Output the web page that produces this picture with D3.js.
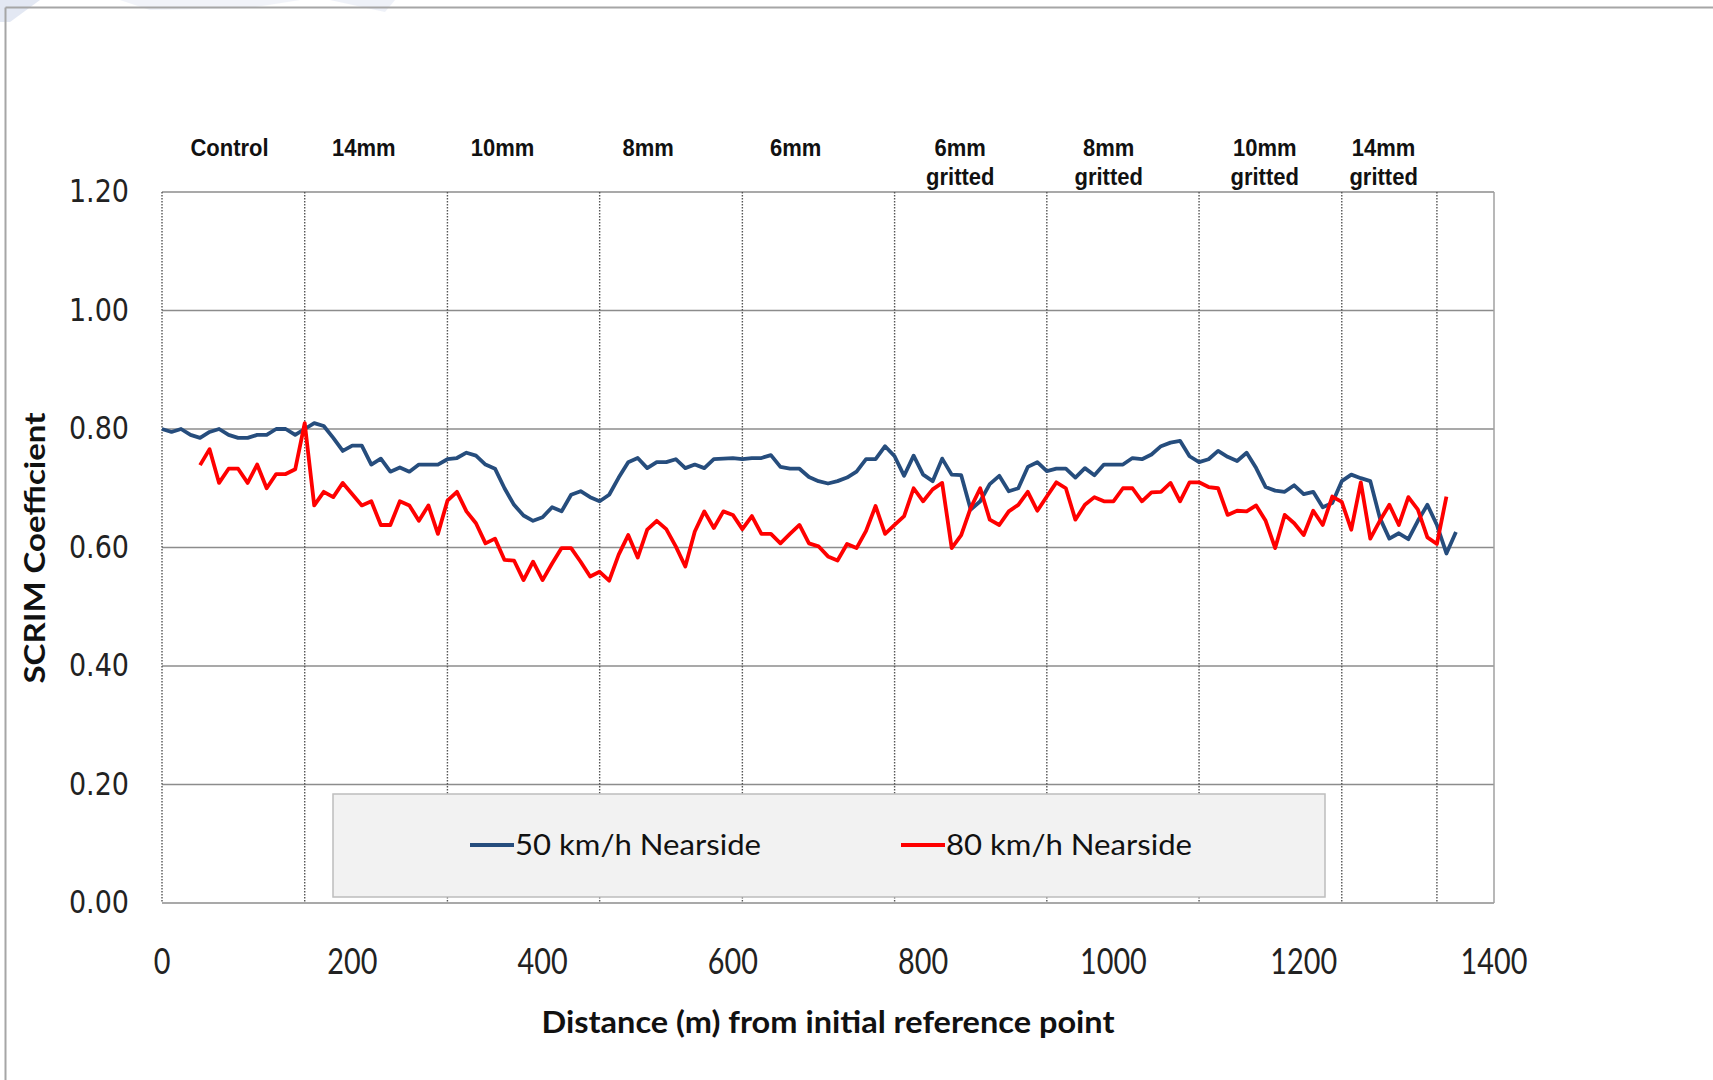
<!DOCTYPE html>
<html>
<head>
<meta charset="utf-8">
<script src="https://cdn.jsdelivr.net/npm/d3@7"></script>
<style>
body { margin: 0; background: #fff; }
</style>
</head>
<body>
<div id="chart"></div>
<script>
// SCRIM readings, one every 10 m
var step = 10;
var blueStart = 0;
var redStart = 40;

var blueValues = [
  0.800, 0.795, 0.800, 0.790, 0.785, 0.795, 0.800, 0.790, 0.785, 0.785,
  0.790, 0.790, 0.800, 0.800, 0.790, 0.800, 0.810, 0.805, 0.785, 0.763,
  0.772, 0.772, 0.740, 0.750, 0.728, 0.735, 0.728, 0.740, 0.740, 0.740,
  0.749, 0.751, 0.760, 0.755, 0.740, 0.733, 0.700, 0.672, 0.654, 0.645,
  0.651, 0.668, 0.661, 0.689, 0.695, 0.685, 0.678, 0.689, 0.718, 0.744,
  0.751, 0.734, 0.744, 0.744, 0.749, 0.734, 0.740, 0.734, 0.749, 0.750,
  0.751, 0.749, 0.751, 0.751, 0.756, 0.736, 0.733, 0.733, 0.719, 0.712,
  0.708, 0.712, 0.718, 0.728, 0.749, 0.749, 0.771, 0.754, 0.721, 0.755,
  0.723, 0.712, 0.750, 0.723, 0.722, 0.664, 0.678, 0.707, 0.721, 0.695,
  0.700, 0.736, 0.744, 0.729, 0.733, 0.733, 0.718, 0.734, 0.722, 0.740,
  0.740, 0.740, 0.751, 0.749, 0.757, 0.771, 0.777, 0.780, 0.754, 0.744,
  0.749, 0.763, 0.753, 0.746, 0.760, 0.734, 0.702, 0.696, 0.694, 0.705,
  0.690, 0.694, 0.668, 0.675, 0.712, 0.723, 0.717, 0.712, 0.650, 0.615,
  0.624, 0.614, 0.645, 0.672, 0.638, 0.590, 0.626
];

var redValues = [
  0.739, 0.766, 0.709, 0.733, 0.733, 0.709, 0.740, 0.700, 0.724, 0.724,
  0.732, 0.810, 0.671, 0.694, 0.685, 0.709, 0.690, 0.671, 0.678, 0.638,
  0.638, 0.678, 0.671, 0.645, 0.671, 0.623, 0.679, 0.694, 0.661, 0.641,
  0.607, 0.615, 0.579, 0.578, 0.545, 0.576, 0.545, 0.573, 0.599, 0.599,
  0.576, 0.551, 0.559, 0.544, 0.588, 0.621, 0.583, 0.630, 0.645, 0.631,
  0.602, 0.568, 0.627, 0.661, 0.633, 0.661, 0.655, 0.631, 0.653, 0.623,
  0.623, 0.607, 0.623, 0.638, 0.607, 0.602, 0.585, 0.578, 0.606, 0.599,
  0.628, 0.670, 0.623, 0.638, 0.653, 0.700, 0.678, 0.698, 0.709, 0.599,
  0.621, 0.667, 0.700, 0.647, 0.638, 0.661, 0.672, 0.694, 0.662, 0.686,
  0.710, 0.700, 0.647, 0.672, 0.685, 0.678, 0.678, 0.700, 0.700, 0.678,
  0.693, 0.694, 0.709, 0.678, 0.710, 0.710, 0.702, 0.700, 0.655, 0.662,
  0.661, 0.671, 0.645, 0.599, 0.655, 0.641, 0.621, 0.662, 0.638, 0.686,
  0.677, 0.630, 0.710, 0.615, 0.645, 0.672, 0.638, 0.685, 0.664, 0.617,
  0.606, 0.686
];

var seriesNames = ["50 km/h Nearside", "80 km/h Nearside"];
var seriesColors = ["#264d7d", "#ff0000"];

// surface sections along the road
var sectionBounds = [150, 300, 460, 610, 770, 930, 1090, 1240, 1340];
var sectionNames = [["Control"], ["14mm"], ["10mm"], ["8mm"], ["6mm"],
  ["6mm", "gritted"], ["8mm", "gritted"], ["10mm", "gritted"], ["14mm", "gritted"]];
var sectionNameAt = [71, 212, 358, 511, 666, 839, 995, 1159, 1284];

var xTicks = [0, 200, 400, 600, 800, 1000, 1200, 1400];
var yTicks = [0, 0.2, 0.4, 0.6, 0.8, 1.0, 1.2];

var W = 1713, H = 1080;
var margin = {top: 192, right: 219, bottom: 177, left: 162};
var width = W - margin.left - margin.right,
    height = H - margin.top - margin.bottom;

var svg = d3.select("#chart").append("svg")
  .attr("width", W)
  .attr("height", H)
  .style("font-family", "Lato, 'Open Sans', sans-serif");

// faint watermark remains top left
var wm = svg.append("g").attr("fill", "#dde3f1").attr("opacity", 0.8);
wm.append("path").attr("d", "M0,0 L40,0 L10,22 L0,22 Z");
wm.append("path").attr("d", "M120,0 L300,0 L250,8 L150,10 Z").attr("opacity", 0.5);
wm.append("path").attr("d", "M330,0 L395,0 L385,12 Z").attr("opacity", 0.6);

// outer frame
svg.append("line").attr("x1", 5.5).attr("x2", W).attr("y1", 7.5).attr("y2", 7.5)
  .attr("stroke", "#a6a6a6").attr("stroke-width", 2);
svg.append("line").attr("x1", 5.5).attr("x2", 5.5).attr("y1", 7.5).attr("y2", H)
  .attr("stroke", "#a6a6a6").attr("stroke-width", 2);

var g = svg.append("g")
  .attr("transform", "translate(" + margin.left + "," + margin.top + ")");

var x = d3.scaleLinear().domain([0, 1400]).range([0, width]);
var y = d3.scaleLinear().domain([0, 1.2]).range([height, 0]);

// horizontal gridlines
g.selectAll(".hgrid")
  .data(yTicks)
  .enter()
  .append("line")
  .attr("x1", 0)
  .attr("x2", width)
  .attr("y1", function(d) { return y(d); })
  .attr("y2", function(d) { return y(d); })
  .attr("stroke", "#8c8c8c")
  .attr("stroke-width", 1.5);

// right edge
g.append("line").attr("x1", width).attr("x2", width).attr("y1", 0).attr("y2", height)
  .attr("stroke", "#a0a0a0").attr("stroke-width", 1.5);

// section boundaries (dotted), including left edge
g.selectAll(".vsec")
  .data([0].concat(sectionBounds))
  .enter()
  .append("line")
  .attr("x1", function(d) { return x(d); })
  .attr("x2", function(d) { return x(d); })
  .attr("y1", 0)
  .attr("y2", height)
  .attr("stroke", "#555")
  .attr("stroke-width", 1.4)
  .attr("stroke-dasharray", "1.5,1.5");

// y tick labels
g.selectAll(".ylab")
  .data(yTicks)
  .enter()
  .append("text")
  .attr("transform", function(d) { return "translate(-33," + (y(d) + 10) + ") scale(1,1.15)"; })
  .attr("text-anchor", "end")
  .style("font-family", "'DejaVu Sans', Verdana, sans-serif")
  .style("font-size", "27px")
  .attr("fill", "#222")
  .text(function(d) { return d3.format(".2f")(d); });

// x tick labels
g.selectAll(".xlab")
  .data(xTicks)
  .enter()
  .append("text")
  .attr("transform", function(d) { return "translate(" + x(d) + "," + (height + 71) + ") scale(0.96,1.2)"; })
  .attr("text-anchor", "middle")
  .style("font-size", "30px")
  .attr("fill", "#222")
  .text(function(d) { return d; });

// section labels above plot
var sec = g.selectAll(".seclab")
  .data(sectionNames)
  .enter()
  .append("text")
  .attr("text-anchor", "middle")
  .style("font-family", "'Liberation Sans', Arial, sans-serif")
  .style("font-weight", "bold")
  .style("font-size", "22px")
  .attr("fill", "#111")
  .attr("transform", function(d, i) { return "translate(" + x(sectionNameAt[i]) + "," + (-36) + ") scale(1,1.12)"; });
sec.selectAll("tspan")
  .data(function(d) { return d; })
  .enter()
  .append("tspan")
  .attr("x", 0)
  .attr("dy", function(d, i) { return i === 0 ? 0 : 25.5; })
  .text(function(d) { return d; });

// series lines
var line = d3.line()
  .x(function(d) { return x(d.dist); })
  .y(function(d) { return y(d.val); });

var blueData = blueValues.map(function(v, i) { return {dist: blueStart + i * step, val: v}; });
var redData = redValues.map(function(v, i) { return {dist: redStart + i * step, val: v}; });

[blueData, redData].forEach(function(data, k) {
  g.append("path")
    .datum(data)
    .attr("fill", "none")
    .attr("stroke", seriesColors[k])
    .attr("stroke-width", 3.8)
    .attr("stroke-linejoin", "round")
    .attr("d", line);
});

// legend box
var legend = svg.append("g");
legend.append("rect")
  .attr("x", 333).attr("y", 794)
  .attr("width", 992).attr("height", 103)
  .attr("fill", "#f2f2f2")
  .attr("stroke", "#bdbdbd")
  .attr("stroke-width", 1.5);

var legendAt = [470, 901];
seriesNames.forEach(function(name, k) {
  legend.append("line")
    .attr("x1", legendAt[k]).attr("x2", legendAt[k] + 44)
    .attr("y1", 845).attr("y2", 845)
    .attr("stroke", seriesColors[k])
    .attr("stroke-width", 4);
  legend.append("text")
    .attr("x", legendAt[k] + 45)
    .attr("y", 855)
    .style("font-size", "29px")
    .attr("fill", "#111")
    .attr("textLength", 246)
    .attr("lengthAdjust", "spacingAndGlyphs")
    .text(name);
});

// axis titles
svg.append("text")
  .attr("x", 828)
  .attr("y", 1033)
  .attr("text-anchor", "middle")
  .style("font-size", "30px")
  .style("font-weight", "bold")
  .attr("fill", "#111")
  .attr("textLength", 573)
  .attr("lengthAdjust", "spacingAndGlyphs")
  .text("Distance (m) from initial reference point");

svg.append("text")
  .attr("transform", "translate(45,548) rotate(-90)")
  .attr("text-anchor", "middle")
  .style("font-size", "29px")
  .style("font-weight", "bold")
  .attr("fill", "#111")
  .attr("textLength", 271)
  .attr("lengthAdjust", "spacingAndGlyphs")
  .text("SCRIM Coefficient");
</script>
</body>
</html>
